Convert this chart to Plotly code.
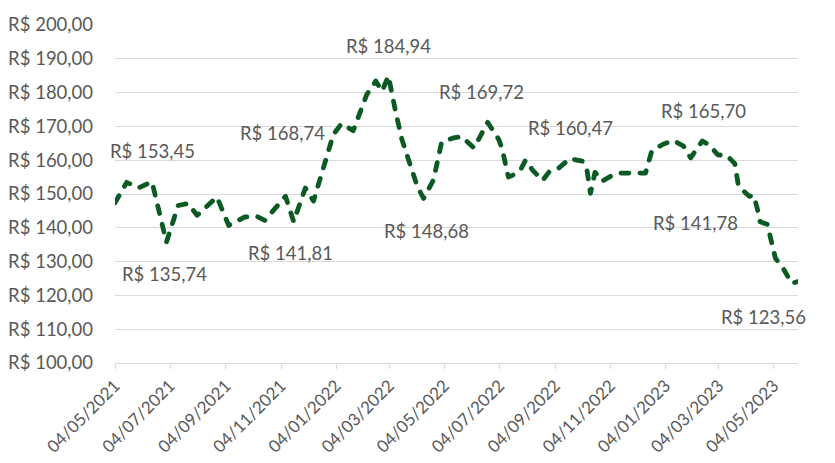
import plotly.graph_objects as go

dates = [
    "2021-05-04", "2021-05-17", "2021-05-30", "2021-06-14", "2021-06-30", "2021-07-13",
    "2021-07-24", "2021-08-03", "2021-08-25", "2021-09-07", "2021-09-25", "2021-10-08",
    "2021-10-17", "2021-11-09", "2021-11-18", "2021-12-01", "2021-12-10", "2022-01-01",
    "2022-01-10", "2022-01-23", "2022-02-07", "2022-02-17", "2022-02-24", "2022-03-03",
    "2022-03-11", "2022-03-18", "2022-04-04", "2022-04-11", "2022-04-22", "2022-05-01",
    "2022-05-13", "2022-05-23", "2022-06-06", "2022-06-21", "2022-07-03", "2022-07-07",
    "2022-07-14", "2022-07-20", "2022-07-28", "2022-08-02", "2022-08-10", "2022-08-21",
    "2022-08-28", "2022-09-08", "2022-09-20", "2022-10-04", "2022-10-09", "2022-10-13",
    "2022-10-18", "2022-10-26", "2022-11-06", "2022-11-15", "2022-12-13", "2022-12-20",
    "2023-01-02", "2023-01-13", "2023-01-24", "2023-02-01", "2023-02-14", "2023-02-22",
    "2023-03-03", "2023-03-13", "2023-03-22", "2023-03-26", "2023-04-07", "2023-04-12",
    "2023-04-16", "2023-04-19", "2023-04-27", "2023-05-06", "2023-05-15", "2023-05-24",
    "2023-05-31",
]
prices = [
    147.4, 153.45, 151.8, 153.6, 135.74, 146.6,
    147.2, 143.7, 149.1, 140.7, 143.2, 143.4,
    142.2, 149.3, 141.81, 151.8, 147.9, 167.6,
    170.8, 168.74, 179.4, 183.4, 180.4, 184.94,
    174.4, 166.1, 152.3, 148.68, 154.2, 165.3,
    166.5, 167.0, 163.6, 171.2, 166.3, 163.5,
    155.0, 155.7, 157.4, 160.0, 157.0, 154.0,
    156.5, 157.7, 160.47, 159.7, 157.2, 150.2,
    156.4, 153.8, 155.5, 156.2, 156.2, 162.8,
    164.8, 165.8, 164.2, 160.7, 165.70, 164.4,
    161.6, 161.4, 159.0, 152.3, 149.3, 149.6,
    145.5, 141.78, 141.0, 131.0, 127.8, 123.56,
    124.1,
]

# labelled points: (date, text) with label offsets in px
label_dates = ["2021-05-17", "2021-06-30", "2021-11-18", "2022-01-23", "2022-03-03",
               "2022-04-11", "2022-06-21", "2022-09-20", "2023-02-14", "2023-04-19",
               "2023-05-24"]
label_texts = ["R$ 153,45", "R$ 135,74", "R$ 141,81", "R$ 168,74", "R$ 184,94",
               "R$ 148,68", "R$ 169,72", "R$ 160,47", "R$ 165,70", "R$ 141,78",
               "R$ 123,56"]
label_shift = [(26, 31), (-2, -32), (-3, -31), (-71, -2), (0, 30),
               (3, -33), (-6, 30), (1, 31), (1, 30), (-65, -1), (-28, -34)]

tick_dates = ["2021-05-04", "2021-07-04", "2021-09-04", "2021-11-04", "2022-01-04",
              "2022-03-04", "2022-05-04", "2022-07-04", "2022-09-04", "2022-11-04",
              "2023-01-04", "2023-03-04", "2023-05-04"]

FONT = "Lato"
GRAY = "#595959"

fig = go.Figure()
fig.add_trace(go.Scatter(
    x=dates, y=prices, mode="lines",
    line=dict(color="#0b5a23", width=4.8, dash="8px,11px"),
    hoverinfo="x+y", showlegend=False,
))

lookup = dict(zip(dates, prices))
for d, t, (dx, dy) in zip(label_dates, label_texts, label_shift):
    fig.add_annotation(x=d, y=lookup[d], text=t, showarrow=False,
                       xshift=dx, yshift=dy,
                       font=dict(family=FONT, size=18.5, color=GRAY))

fig.update_layout(
    width=835, height=463,
    margin=dict(l=115, r=37, t=25, b=100),
    paper_bgcolor="white", plot_bgcolor="white",
    separators=",.",
    font=dict(family=FONT, size=18.5, color=GRAY),
    xaxis=dict(
        type="date", range=["2021-05-04", "2023-05-31"], automargin=False,
        tickvals=tick_dates, tickformat="%d/%m/%Y", tickangle=-45,
        showgrid=False, showline=True, linecolor="#d9d9d9", linewidth=1.3,
        ticks="outside", ticklen=5, tickcolor="#d9d9d9",
        tickfont=dict(family=FONT, size=17, color=GRAY),
    ),
    yaxis=dict(
        range=[100, 200], dtick=10, tickformat=".2f", tickprefix="R$ ",
        automargin=False,
        showgrid=True, gridcolor="#d9d9d9", gridwidth=1.3,
        zeroline=False, showline=False, ticks="", ticklabelstandoff=21,
        tickfont=dict(family=FONT, size=18.5, color=GRAY),
    ),
)

fig.write_html(
    "out.html",
    config={"displayModeBar": False},
    post_script=(
        "document.body.style.margin='0';document.body.style.padding='0';"
        "document.querySelectorAll('.js-line').forEach(function(p){"
        "p.style.strokeLinecap='round';p.style.strokeLinejoin='round';});"
    ),
)
